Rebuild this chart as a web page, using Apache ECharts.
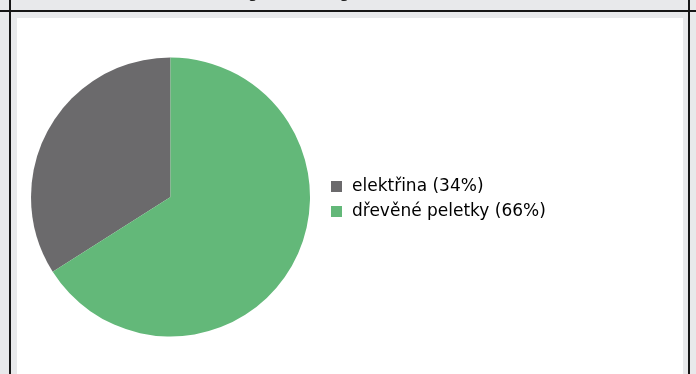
<!DOCTYPE html>
<html>
<head>
<meta charset="utf-8">
<script src="https://cdn.jsdelivr.net/npm/echarts@6/dist/echarts.min.js"></script>
<style>
html,body{margin:0;padding:0;background:#e8e9eb;}
#c{width:696px;height:374px;}
</style>
</head>
<body>
<div id="c"></div>
<script>
const categories = ['elektřina', 'dřevěné peletky'];
const values = [34, 66];
const colors = ['#6b6a6c', '#63b879'];
const titleText = 'Energie dnes – graf';

const total = values.reduce((a, b) => a + b, 0);
const pct = {};
categories.forEach((c, i) => { pct[c] = Math.round(values[i] / total * 100); });

const chart = echarts.init(document.getElementById('c'), null, {renderer: 'canvas'});
chart.setOption({
  backgroundColor: '#e8e9eb',
  animation: false,
  graphic: [
    {type: 'rect', shape: {x: 17, y: 18, width: 666, height: 360}, style: {fill: '#ffffff'}, z: -10},
    {type: 'rect', shape: {x: 0, y: 10, width: 696, height: 2}, style: {fill: '#161616'}, z: -5},
    {type: 'rect', shape: {x: 9, y: 0, width: 2, height: 374}, style: {fill: '#161616'}, z: -5},
    {type: 'rect', shape: {x: 688, y: 0, width: 2, height: 374}, style: {fill: '#161616'}, z: -5},
    {type: 'text', left: 209, top: -16, style: {text: titleText, font: '17px "DejaVu Sans"', fill: '#222'}, z: -6}
  ],
  legend: {
    orient: 'vertical',
    left: 326,
    top: 173,
    itemWidth: 11,
    itemHeight: 11,
    itemGap: 8,
    icon: 'rect',
    data: categories,
    formatter: name => name + ' (' + pct[name] + '%)',
    textStyle: {fontFamily: '"DejaVu Sans"', fontSize: 17, color: '#000', lineHeight: 17, padding: [0, 0, 0, 5]}
  },
  series: [{
    type: 'pie',
    center: [170.5, 197],
    radius: 139.5,
    startAngle: 90,
    clockwise: false,
    label: {show: false},
    labelLine: {show: false},
    silent: true,
    itemStyle: {borderWidth: 0},
    data: categories.map((c, i) => ({name: c, value: values[i], itemStyle: {color: colors[i]}}))
  }]
});
</script>
</body>
</html>
